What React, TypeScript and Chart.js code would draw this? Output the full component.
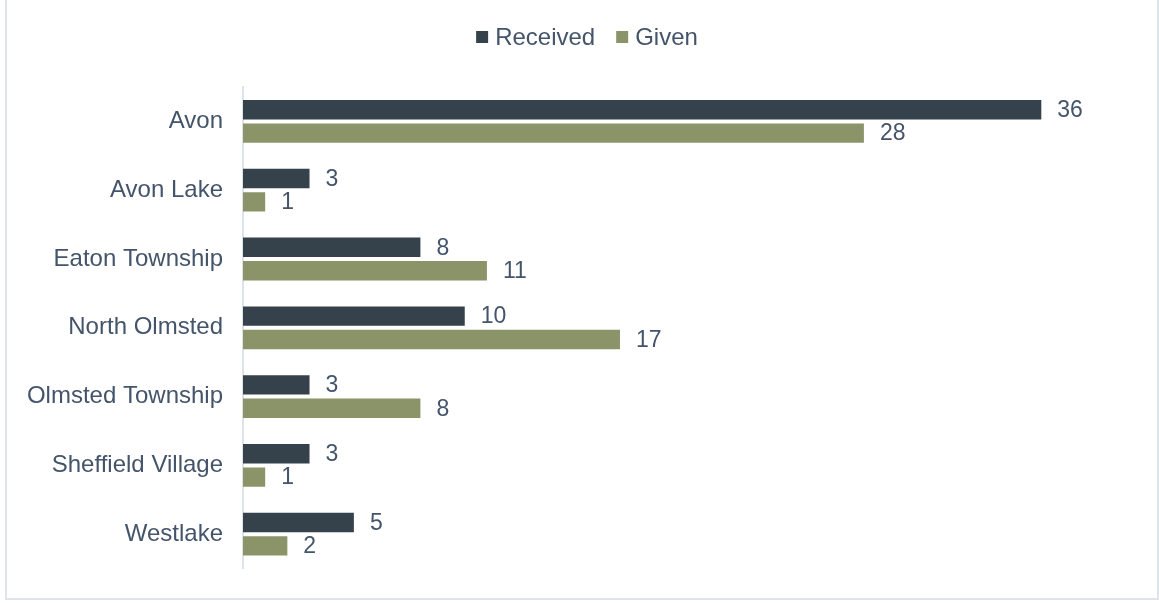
import React, { useEffect, useRef } from "react";
import { Chart, registerables } from "chart.js";

Chart.register(...registerables);

const categories = [
  "Avon",
  "Avon Lake",
  "Eaton Township",
  "North Olmsted",
  "Olmsted Township",
  "Sheffield Village",
  "Westlake",
];
const receivedValues = [36, 3, 8, 10, 3, 3, 5];
const givenValues = [28, 1, 11, 17, 8, 1, 2];
const seriesNames = ["Received", "Given"];
const seriesColors = ["#36424b", "#8a9468"];

const TEXT_COLOR = "#44546a";
const FONT_FAMILY = "'Liberation Sans', Arial, sans-serif";

const valueLabels = {
  id: "valueLabels",
  afterDatasetsDraw(chart: any) {
    const ctx = chart.ctx;
    ctx.save();
    ctx.font = `23px ${FONT_FAMILY}`;
    ctx.fillStyle = TEXT_COLOR;
    ctx.textAlign = "left";
    ctx.textBaseline = "middle";
    chart.data.datasets.forEach((ds: any, di: number) => {
      const meta = chart.getDatasetMeta(di);
      meta.data.forEach((el: any, i: number) => {
        ctx.fillText(String(ds.data[i]), el.x + 16, el.y + 1);
      });
    });
    ctx.restore();
  },
};

const customLegend = {
  id: "customLegend",
  afterDraw(chart: any) {
    const ctx = chart.ctx;
    ctx.save();
    ctx.font = `24px ${FONT_FAMILY}`;
    ctx.textBaseline = "middle";
    ctx.textAlign = "left";
    const box = 12;
    const gap = 7;
    const spacing = 21;
    const items = chart.data.datasets.map((ds: any) => ({
      label: ds.label,
      color: ds.backgroundColor,
      w: ctx.measureText(ds.label).width,
    }));
    const total = items.reduce((s: number, it: any) => s + box + gap + it.w, 0) + spacing * (items.length - 1);
    let x = 587 - total / 2;
    const y = 37;
    items.forEach((it: any) => {
      ctx.fillStyle = it.color;
      ctx.fillRect(x, y - box / 2, box, box);
      x += box + gap;
      ctx.fillStyle = TEXT_COLOR;
      ctx.fillText(it.label, x, y + 1);
      x += it.w + spacing;
    });
    ctx.restore();
  },
};

export default function App() {
  const canvasRef = useRef<HTMLCanvasElement | null>(null);

  useEffect(() => {
    if (!canvasRef.current) return;
    const chart = new Chart(canvasRef.current, {
      type: "bar",
      data: {
        labels: categories,
        datasets: [
          {
            label: seriesNames[0],
            data: receivedValues,
            backgroundColor: seriesColors[0],
            categoryPercentage: 0.68,
            barPercentage: 0.83,
          },
          {
            label: seriesNames[1],
            data: givenValues,
            backgroundColor: seriesColors[1],
            categoryPercentage: 0.68,
            barPercentage: 0.83,
          },
        ],
      },
      options: {
        indexAxis: "y",
        animation: false,
        responsive: false,
        layout: { padding: { top: 87, right: 29, bottom: 33, left: 0 } },
        plugins: {
          legend: { display: false },
          tooltip: { enabled: false },
        },
        scales: {
          x: {
            display: false,
            min: 0,
            max: 40,
          },
          y: {
            grid: { display: false, drawTicks: false },
            border: { display: true, color: "#dde3ea", width: 2 },
            ticks: {
              color: TEXT_COLOR,
              font: { size: 24, family: FONT_FAMILY },
              padding: 20,
            },
            afterFit(scale: any) {
              scale.width = 243;
            },
          },
        },
      },
      plugins: [valueLabels, customLegend],
    });
    return () => chart.destroy();
  }, []);

  return (
    <div style={{ position: "absolute", left: 0, top: 0, width: 1159, height: 603, background: "#fff", overflow: "hidden" }}>
      <div
        style={{
          position: "absolute",
          left: 5,
          top: -2,
          width: 1154,
          height: 602,
          boxSizing: "border-box",
          borderLeft: "2px solid #dfe4ea",
          borderRight: "2px solid #dfe4ea",
          borderBottom: "2px solid #dfe4ea",
        }}
      />
      <canvas ref={canvasRef} width={1159} height={603} style={{ position: "absolute", left: 0, top: 0 }} />
    </div>
  );
}
